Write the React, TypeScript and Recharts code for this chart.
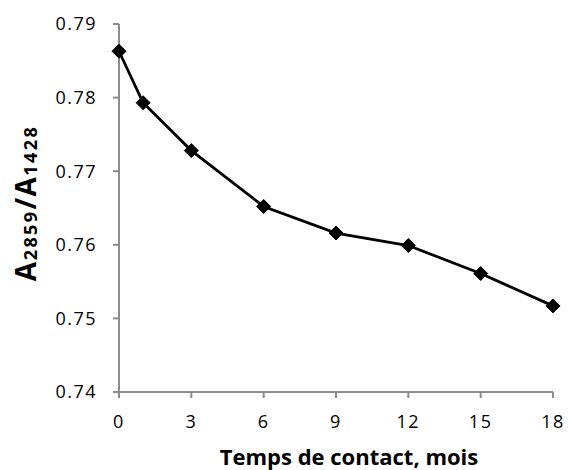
import React from 'react';
import { LineChart, Line, XAxis, YAxis, Label } from 'recharts';

const months = [0, 1, 3, 6, 9, 12, 15, 18];
const ratios = [0.7863, 0.7793, 0.7728, 0.7652, 0.7616, 0.7599, 0.7561, 0.7517];
const xTicks = [0, 3, 6, 9, 12, 15, 18];
const yTicks = [0.74, 0.75, 0.76, 0.77, 0.78, 0.79];

const data = months.map((m, i) => ({ m, r: ratios[i] }));

const FONT = '"Open Sans", sans-serif';
const AXIS = '#8c8c8c';

const Diamond = (props: any) => {
  const { cx, cy } = props;
  if (cx == null || cy == null) return null;
  const s = 7;
  return (
    <path
      d={`M${cx},${cy - s} L${cx + s},${cy} L${cx},${cy + s} L${cx - s},${cy} Z`}
      fill="#000"
      stroke="#000"
    />
  );
};

const XLabel = (props: any) => {
  const vb = props.viewBox || {};
  const cx = vb.x + vb.width / 2 + 13;
  return (
    <text x={cx} y={vb.y + 73} textAnchor="middle" fontFamily={FONT} fontWeight="bold" fontSize={22} fill="#000">
      Temps de contact, mois
    </text>
  );
};

const YLabel = (props: any) => {
  const vb = props.viewBox || {};
  const cx = 25;
  const cy = vb.y + vb.height / 2 - 5;
  return (
    <text
      x={cx}
      y={cy}
      transform={`rotate(-90 ${cx} ${cy})`}
      textAnchor="middle"
      dominantBaseline="central"
      fontFamily={FONT}
      fontWeight="bold"
      fontSize={28}
      letterSpacing={1.5}
      fill="#000"
    >
      A<tspan fontSize={18} letterSpacing={2.4} dy={5}>2859</tspan>
      <tspan dy={-5}>/A</tspan>
      <tspan fontSize={18} letterSpacing={2.4} dy={5}>1428</tspan>
    </text>
  );
};

export default function App() {
  return (
    <div style={{ position: 'absolute', left: 0, top: 0, background: '#fff' }}>
      <LineChart width={569} height={470} data={data} margin={{ top: 24, right: 16, bottom: 0, left: 0 }}>
        <XAxis
          dataKey="m"
          type="number"
          domain={[0, 18]}
          ticks={xTicks}
          height={78}
          stroke={AXIS}
          strokeWidth={2}
          tickSize={6}
          tickMargin={17}
          tick={{ fill: '#000', fontSize: 18, fontFamily: FONT, letterSpacing: 1.5 }}
          tickLine={{ stroke: AXIS, strokeWidth: 2 }}
        >
          <Label content={<XLabel />} />
        </XAxis>
        <YAxis
          type="number"
          domain={[0.74, 0.79]}
          ticks={yTicks}
          width={119}
          stroke={AXIS}
          strokeWidth={2}
          tickSize={6}
          tickMargin={16}
          tickFormatter={(v: number) => v.toFixed(2)}
          tick={{ fill: '#000', fontSize: 18, fontFamily: FONT, letterSpacing: 1.5 }}
          tickLine={{ stroke: AXIS, strokeWidth: 2 }}
        >
          <Label content={<YLabel />} />
        </YAxis>
        <Line
          dataKey="r"
          stroke="#000"
          strokeWidth={2.8}
          dot={<Diamond />}
          isAnimationActive={false}
        />
      </LineChart>
    </div>
  );
}
